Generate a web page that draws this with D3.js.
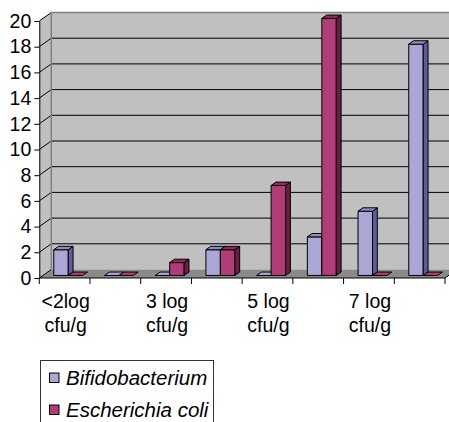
<!DOCTYPE html>
<html>
<head>
<meta charset="UTF-8">
<script src="https://d3js.org/d3.v7.min.js"></script>
<style>
  body { margin: 0; background: #fff; }
  svg { font-family: "Liberation Sans", Arial, sans-serif; }
  .tick text { font-size: 19.5px; fill: #000; }
</style>
</head>
<body>
<svg width="449" height="422"></svg>
<script>
const categories = ["<2log cfu/g", "2 log cfu/g", "3 log cfu/g", "4 log cfu/g",
                    "5 log cfu/g", "6 log cfu/g", "7 log cfu/g", "8 log cfu/g"];
const bifido = [2, 0, 0, 2, 0, 3, 5, 18];
const ecoli  = [0, 0, 1, 2, 7, 20, 0, 0];
const yTicks = [0, 2, 4, 6, 8, 10, 12, 14, 16, 18, 20];
const seriesNames = ["Bifidobacterium", "Escherichia coli"];

const svg = d3.select("svg");

// 3D depth offset of the plot (back wall vs front plane)
const DX = 12, DY = -8.5;
const plotL = 39.3, plotR = 445, plotB = 278, plotT = 21;

const x = d3.scaleBand().domain(categories).range([plotL, plotR]);
const y = d3.scaleLinear().domain([0, 20]).range([plotB, plotT]);

const series = [
  { name: seriesNames[0], values: bifido, front: "#aaa6d6", top: "#8f8bc3", side: "#5f5c9e" },
  { name: seriesNames[1], values: ecoli,  front: "#b03c78", top: "#8c2c5e", side: "#6a1c46" }
];

const pt = p => p.map(d => d.join(",")).join(" ");

// side wall
svg.append("polygon")
  .attr("points", pt([[plotL, plotB], [plotL, plotT], [plotL + DX, plotT + DY], [plotL + DX, plotB + DY]]))
  .attr("fill", "#c0c0c0");
// back wall
svg.append("polygon")
  .attr("points", pt([[plotL + DX, plotT + DY], [plotR + DX, plotT + DY], [plotR + DX, plotB + DY], [plotL + DX, plotB + DY]]))
  .attr("fill", "#c0c0c0");
// floor
svg.append("polygon")
  .attr("points", pt([[plotL, plotB], [plotR, plotB], [plotR + DX, plotB + DY], [plotL + DX, plotB + DY]]))
  .attr("fill", "#8a8a8a");

// gridlines on back wall + side wall
yTicks.forEach(v => {
  if (v > 0 && v < 20) {
    svg.append("line")
      .attr("x1", plotL + DX).attr("x2", plotR + DX)
      .attr("y1", y(v) + DY).attr("y2", y(v) + DY)
      .attr("stroke", "#000").attr("stroke-width", 1);
  }
  svg.append("line")
    .attr("x1", plotL).attr("x2", plotL + DX)
    .attr("y1", y(v)).attr("y2", y(v) + DY)
    .attr("stroke", "#000").attr("stroke-width", 1);
});

// wall edges
svg.append("line")
  .attr("x1", plotL + DX).attr("x2", plotL + DX)
  .attr("y1", plotT + DY).attr("y2", plotB + DY)
  .attr("stroke", "#808080").attr("stroke-width", 1.5);
svg.append("line")
  .attr("x1", plotL + DX).attr("x2", plotR + DX)
  .attr("y1", plotT + DY).attr("y2", plotT + DY)
  .attr("stroke", "#808080").attr("stroke-width", 1.5);
svg.append("line")
  .attr("x1", plotR).attr("x2", plotR + DX)
  .attr("y1", plotB).attr("y2", plotB + DY)
  .attr("stroke", "#000").attr("stroke-width", 1);

// bars (Excel default gap width 150%)
const bw = x.bandwidth() / 3.5;
const d0 = 0.3, d1 = 0.7;
const bars = svg.append("g");
categories.forEach((c, i) => {
  series.forEach((s, k) => {
    const v = s.values[i];
    const fx0 = x(c) + 0.75 * bw + k * bw + DX * d0;
    const fx1 = fx0 + bw;
    const fyB = y(0) + DY * d0;
    const fyT = y(v) + DY * d0;
    const ox = DX * (d1 - d0), oy = DY * (d1 - d0);
    const g = bars.append("g").attr("stroke", "#000").attr("stroke-width", 1).attr("stroke-linejoin", "round");
    if (v > 0) {
      g.append("polygon").attr("fill", s.front)
        .attr("points", pt([[fx0, fyB], [fx1, fyB], [fx1, fyT], [fx0, fyT]]));
      g.append("polygon").attr("fill", s.side)
        .attr("points", pt([[fx1, fyB], [fx1 + ox, fyB + oy], [fx1 + ox, fyT + oy], [fx1, fyT]]));
    }
    g.append("polygon").attr("fill", v > 0 ? s.top : s.front)
      .attr("points", pt([[fx0, fyT], [fx1, fyT], [fx1 + ox, fyT + oy], [fx0 + ox, fyT + oy]]));
  });
});

// y axis
const yAxis = svg.append("g")
  .attr("transform", `translate(${plotL},0)`)
  .call(d3.axisLeft(y).tickValues(yTicks).tickSize(5).tickSizeOuter(0));
yAxis.select(".domain").attr("stroke", "#000");
yAxis.selectAll(".tick line").attr("stroke", "#000");
yAxis.selectAll(".tick text").attr("x", -8);

// x axis line + ticks at category boundaries
svg.append("line")
  .attr("x1", plotL).attr("x2", plotR)
  .attr("y1", plotB).attr("y2", plotB)
  .attr("stroke", "#000");
categories.concat([null]).forEach(c => {
  const tx = c === null ? x.range()[1] : x(c);
  svg.append("line")
    .attr("x1", tx).attr("x2", tx)
    .attr("y1", plotB).attr("y2", plotB + 6)
    .attr("stroke", "#000");
});

// category labels (every second one shown, as in the original)
categories.forEach((c, i) => {
  if (i % 2) return;
  const parts = c.split(/ (?=cfu)/);
  const cx = x(c) + x.bandwidth() / 2 + 1;
  const t = svg.append("text")
    .attr("y", 308)
    .attr("text-anchor", "middle")
    .attr("font-size", 19.5);
  parts.forEach((p, j) => {
    t.append("tspan").attr("x", cx).attr("dy", j ? 24 : 0).text(p);
  });
});

// legend
const lg = svg.append("g").attr("transform", "translate(40.5,360.5)");
lg.append("rect").attr("width", 173).attr("height", 80)
  .attr("fill", "#fff").attr("stroke", "#333");
series.forEach((s, i) => {
  lg.append("rect")
    .attr("x", 9).attr("y", 12.5 + i * 32)
    .attr("width", 9.5).attr("height", 9.5)
    .attr("fill", s.front).attr("stroke", "#000");
  lg.append("text")
    .attr("x", 25.5).attr("y", 24.5 + i * 32)
    .attr("font-size", 20.5).attr("font-style", "italic")
    .text(s.name);
});
</script>
</body>
</html>
